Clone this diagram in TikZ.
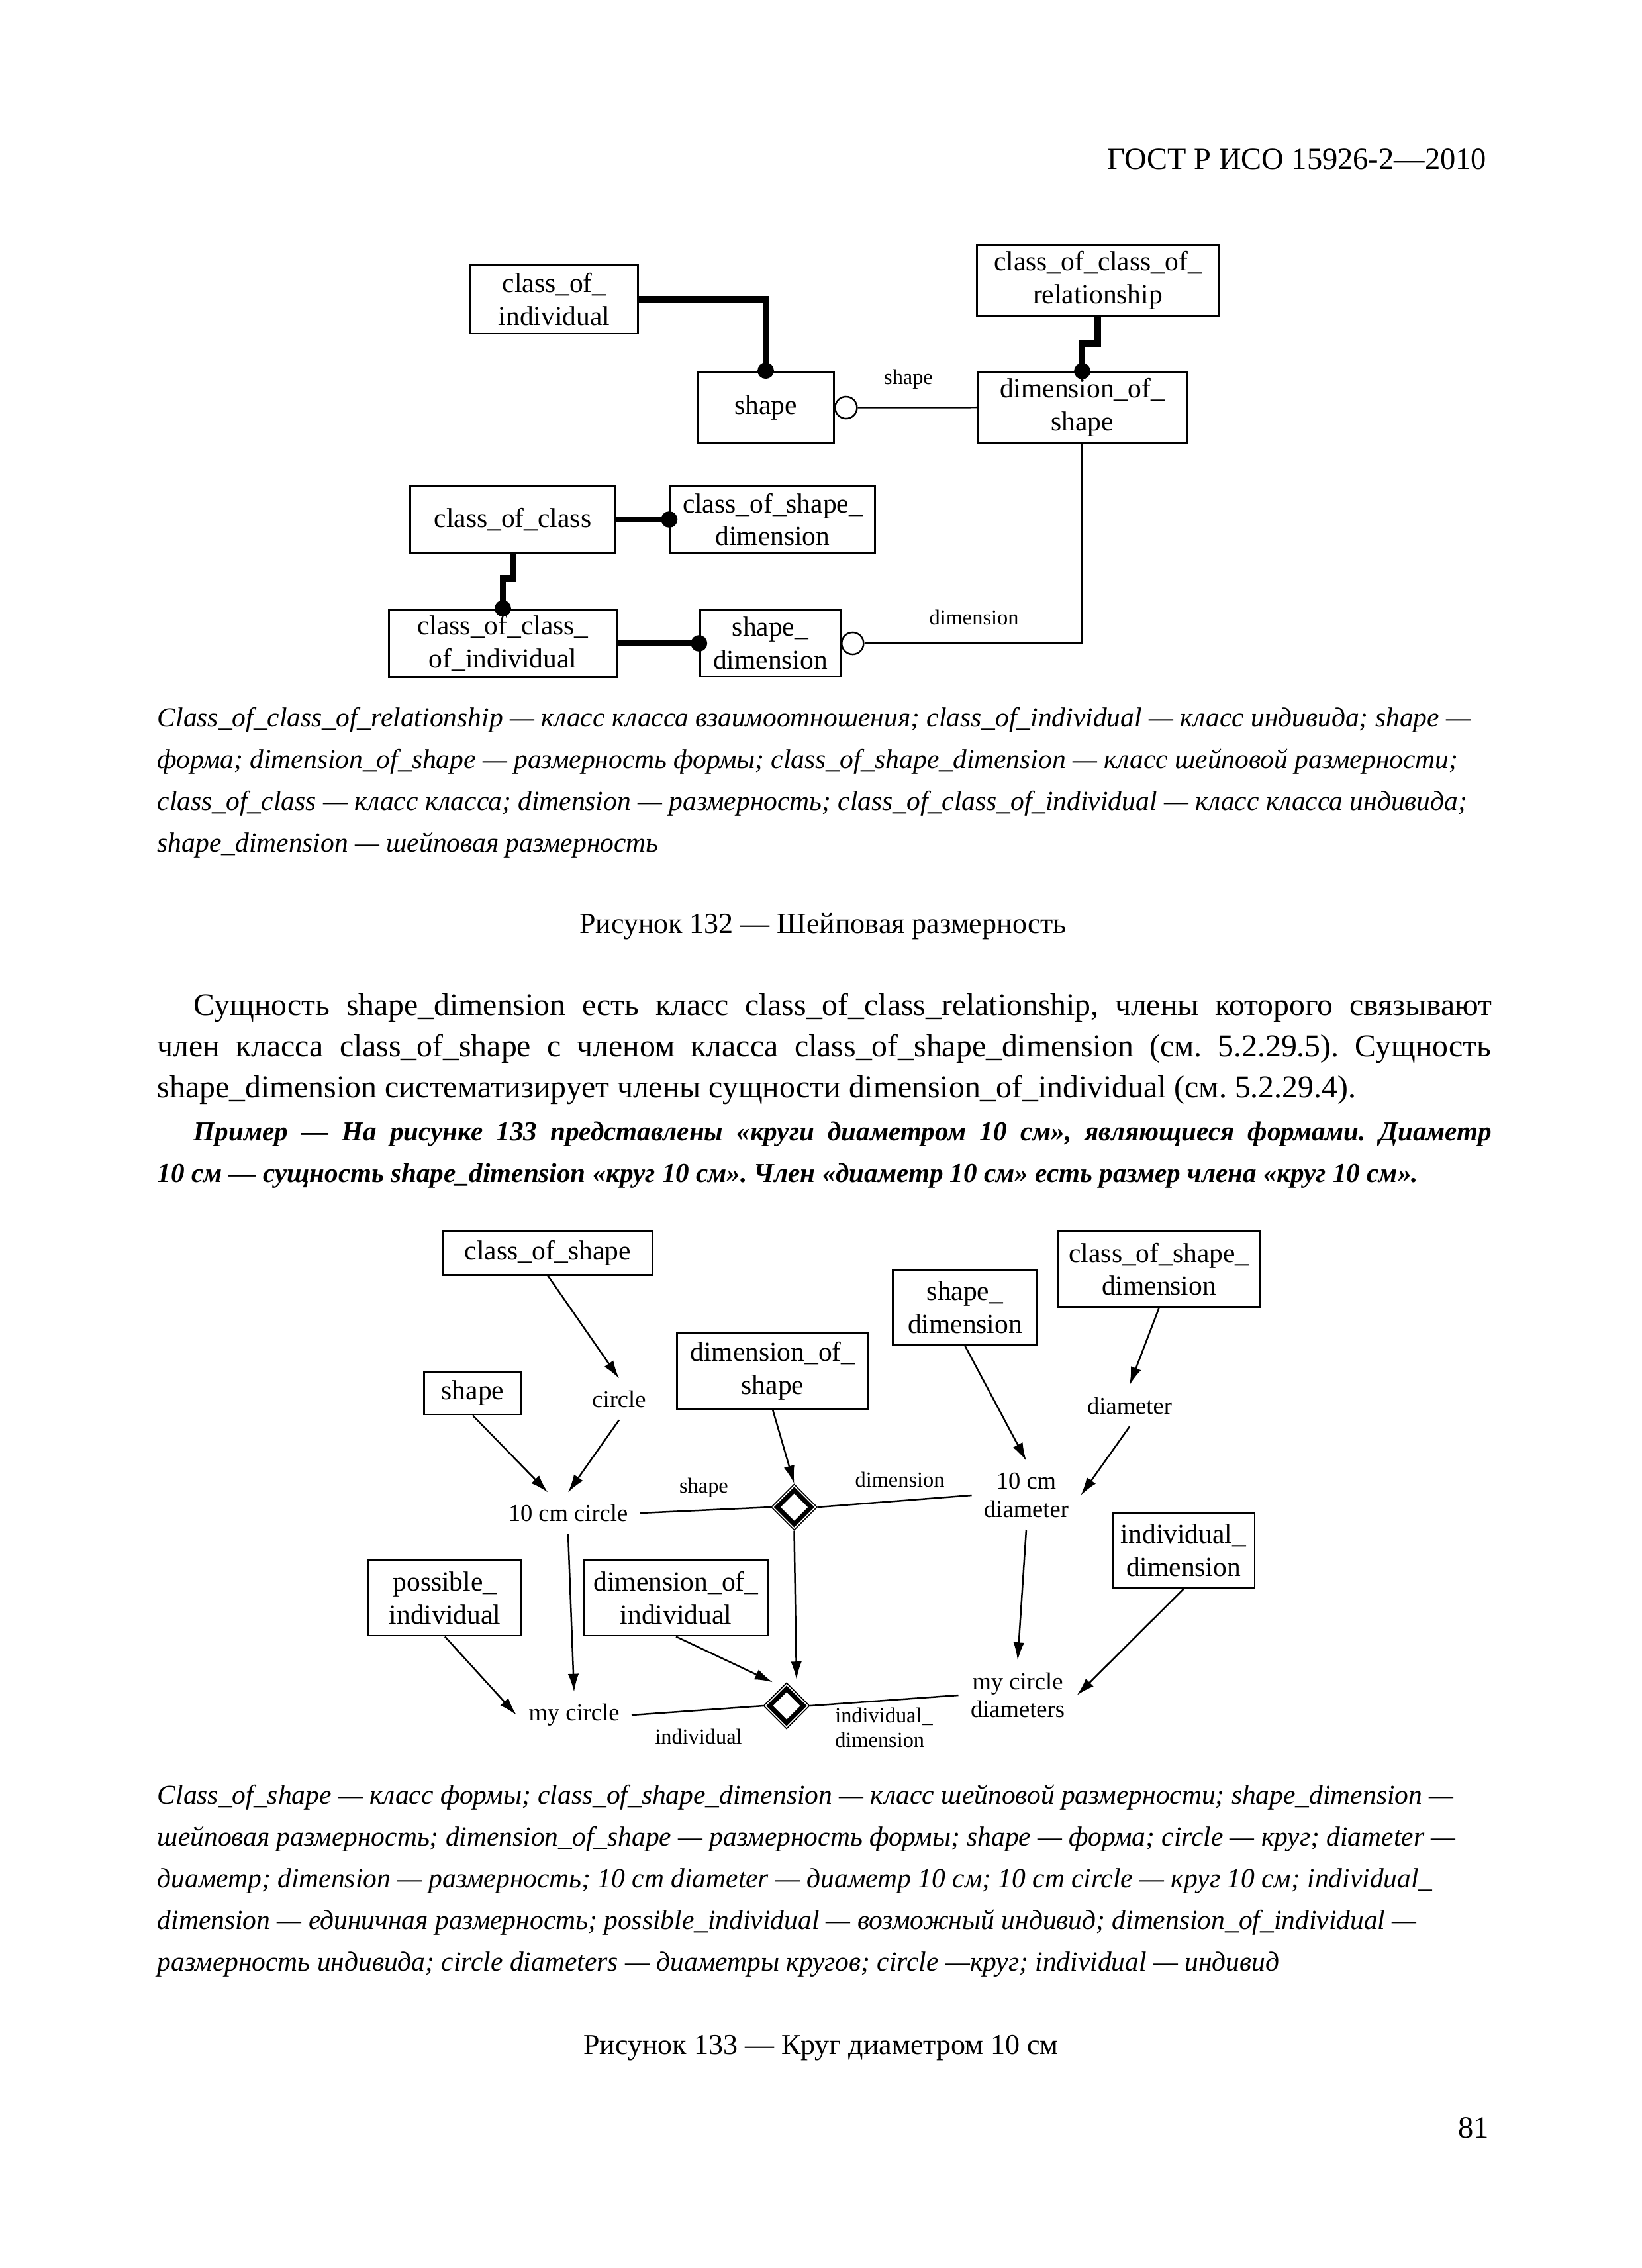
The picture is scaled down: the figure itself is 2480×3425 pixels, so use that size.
\documentclass[tikz,border=0pt]{standalone}
\usepackage{fontspec}
\setmainfont{Liberation Serif}
\usetikzlibrary{arrows.meta,shapes.geometric,calc}
\frenchspacing
\def\dotat(#1){\fill (#1) circle (1.05mm);}
\newlength\fullw \setlength\fullw{17.06cm}
\newlength\indw \setlength\indw{16.6cm}
\tikzset{
	box/.style={draw, line width=0.7pt, align=center, inner sep=0pt, font=\fontsize{10}{12}\selectfont},
	lbl/.style={inner sep=1.5mm, align=center, font=\fontsize{8.8}{10.2}\selectfont},
	rlbl/.style={inner sep=0pt, align=left, font=\fontsize{7.8}{9}\selectfont},
	thk/.style={line width=2.2pt},
	thn/.style={line width=0.6pt},
	arr/.style={line width=0.6pt, -{Latex[length=2.3mm,width=1.4mm]}},
	ring/.style={circle, draw, line width=0.6pt, minimum size=2.8mm, inner sep=0pt, fill=white},
	dia/.style={diamond, draw, line width=0.4pt, minimum size=5.9mm, inner sep=0pt, fill=white},
	diain/.style={diamond, draw, line width=1.7pt, minimum size=4.6mm, inner sep=0pt},
	txt/.style={inner sep=0pt, anchor=mid west},
	legend/.style={txt, font=\fontsize{10}{12}\selectfont\itshape},
	body/.style={txt, font=\fontsize{11.5}{14}\selectfont},
	expl/.style={txt, font=\fontsize{9.9}{12}\selectfont\bfseries\itshape},
	figcap/.style={inner sep=0pt, anchor=mid, font=\fontsize{10.6}{13}\selectfont},
}

\begin{document}
\begin{tikzpicture}[x=0.0084677cm, y=-0.0084677cm]
			%%%%% PAGE %%%%%
			\fill[white] (0,0) rectangle (2480,3425);
			\useasboundingbox (0,0) rectangle (2480,3425);
			
			\node[txt, anchor=mid east, font=\fontsize{11.2}{13}\selectfont] (hdr) at (2246,246) {ГОСТ Р ИСО 15926-2—2010};
			\node[txt, anchor=mid east, font=\fontsize{11.2}{13}\selectfont] (pgno) at (2250,3219) {81};
			
			%%%%% FIGURE 132 %%%%%
			\node[box, minimum width=21.5mm, minimum height=8.8mm] (coi) at (837,452) {class\_of\_\\individual};
			\node[box, minimum width=30.9mm, minimum height=9.06mm] (cocr) at (1658,423.5) {class\_of\_class\_of\_\\relationship};
			\node[box, minimum width=17.5mm, minimum height=9.2mm] (shp) at (1156.5,615.5) {shape};
			\node[box, minimum width=26.7mm, minimum height=9mm] (dos) at (1634.5,615) {dimension\_of\_\\shape};
			\node[box, minimum width=26.2mm, minimum height=8.4mm] (coc) at (774.5,784.5) {class\_of\_class};
			\node[box, minimum width=26.2mm, minimum height=8.4mm] (cosd) at (1167,784.5) {class\_of\_shape\_\\dimension};
			\node[box, minimum width=29.2mm, minimum height=8.7mm] (coci) at (759.5,971.5) {class\_of\_class\_\\of\_individual};
			\node[box, minimum width=18mm, minimum height=8.55mm] (sdim) at (1163.5,971.5) {shape\_\\dimension};
			
			\draw[thk] (coi.east) -| (shp.north);
			\dotat(shp.north)
			\coordinate (jog1) at (1658,519);
			\draw[thk] (cocr.south) -- (jog1) -| (dos.north);
			\dotat(dos.north)
			
			\node[ring] (shring) at ([xshift=1.4mm]shp.east) {};
			\draw[thn] (shring) -- (dos);
			\node[rlbl] (lshp) at (1372,573) {shape};
			
			\node[ring] (sdring) at ([xshift=1.4mm]sdim.east) {};
			\draw[thn] (dos.south) |- (sdring);
			\node[rlbl] (ldim) at (1471,932) {dimension};
			
			\draw[thk] (coc.east) -- (cosd.west);
			\dotat(cosd.west)
			\coordinate (jog2) at (774.5,874);
			\draw[thk] (coc.south) -- (jog2) -| (coci.north);
			\dotat(coci.north)
			\draw[thk] (coci.east) -- (sdim.west);
			\dotat(sdim.west)
			
			%%%%% LEGEND 132 %%%%%
			\node[legend] (lga) at (237,1088) {Class\_of\_class\_of\_relationship — класс класса взаимоотношения; class\_of\_individual — класс индивида; shape —};
			\node[legend] (lgb) at (237,1151) {форма; dimension\_of\_shape — размерность формы; class\_of\_shape\_dimension — класс шейповой размерности;};
			\node[legend] (lgc) at (237,1214) {class\_of\_class — класс класса; dimension — размерность; class\_of\_class\_of\_individual — класс класса индивида;};
			\node[legend] (lgd) at (237,1277) {shape\_dimension — шейповая размерность};
			\node[figcap] (fig132) at (1243,1400) {Рисунок 132 — Шейповая размерность};
			
			%%%%% TEXT %%%%%
			\node[body] (bda) at (292,1524) {\hbox to \indw{Сущность shape\_dimension есть класс class\_of\_class\_relationship, члены которого связывают}};
			\node[body] (bdb) at (237,1586) {\hbox to \fullw{член класса class\_of\_shape с членом класса class\_of\_shape\_dimension (см. 5.2.29.5). Сущность}};
			\node[body] (bdc) at (237,1648) {shape\_dimension систематизирует члены сущности dimension\_of\_individual (см. 5.2.29.4).};
			\node[expl] (exa) at (292,1713) {\hbox to \indw{Пример — На рисунке 133 представлены «круги диаметром 10 см», являющиеся формами. Диаметр}};
			\node[expl] (exb) at (237,1776) {10 см — сущность shape\_dimension «круг 10 см». Член «диаметр 10 см» есть размер члена «круг 10 см».};
			
			%%%%% FIGURE 133 %%%%%
			\node[box, minimum width=26.7mm, minimum height=5.6mm] (cos) at (827.5,1892) {class\_of\_shape};
			\node[box, minimum width=24.4mm, minimum height=9.6mm] (dosb) at (1167,2070.5) {dimension\_of\_\\shape};
			\node[box, minimum width=18.5mm, minimum height=9.65mm] (sdb) at (1457.5,1974) {shape\_\\dimension};
			\node[box, minimum width=25.8mm, minimum height=9.7mm] (cosdb) at (1750.5,1916.5) {class\_of\_shape\_\\dimension};
			\node[box, minimum width=12.4mm, minimum height=5.5mm] (shpb) at (714,2103.5) {shape};
			\node[box, minimum width=19.5mm, minimum height=9.65mm] (posi) at (672,2413) {possible\_\\individual};
			\node[box, minimum width=23.4mm, minimum height=9.65mm] (doi) at (1021,2413) {dimension\_of\_\\individual};
			\node[box, minimum width=18.2mm, minimum height=9.6mm] (idim) at (1787.5,2341.5) {individual\_\\dimension};
			
			\node[lbl] (circ) at (935,2113) {circle};
			\node[lbl] (c10) at (858,2285) {10 cm circle};
			\node[lbl] (diam) at (1706,2123) {diameter};
			\node[lbl] (d10) at (1550,2258) {10 cm\\diameter};
			\node[lbl] (myc) at (867,2590) {my circle};
			\node[lbl] (mycd) at (1537,2560) {my circle\\diameters};
			
			\node[dia] (dia1) at (1199.5,2276) {};
			\node[diain] (dia1in) at (dia1) {};
			\node[dia] (dia2) at (1188,2576) {};
			\node[diain] (dia2in) at (dia2) {};
			
			\draw[arr] (cos.south) -- (circ.north);
			\draw[arr] (shpb.south) -- (c10);
			\draw[arr] (circ.south) -- (c10.north);
			\draw[arr] (c10.south) -- (myc.north);
			\draw[arr] (dosb.south) -- (dia1.north);
			\draw[arr] (sdb.south) -- (d10.north);
			\draw[arr] (cosdb.south) -- (diam.north);
			\draw[arr] (diam.south) -- (d10.east);
			\draw[arr] (d10.south) -- (mycd.north);
			\draw[arr] (posi.south) -- (myc.west);
			\draw[arr] (doi.south) -- ($(dia2.north)+(-21,0)$);
			\draw[arr] (dia1.south) -- ($(dia2.north)+(15,-4)$);
			\draw[arr] (idim.south) -- (mycd.east);
			
			\draw[thn] (c10.east) -- (dia1.west);
			\draw[thn] (dia1.east) -- (d10.west);
			\draw[thn] (myc.east) -- (dia2.west);
			\draw[thn] (dia2.east) -- (mycd.west);
			
			\node[rlbl] (lsh) at (1063,2247) {shape};
			\node[rlbl] (ldm) at (1359,2234) {dimension};
			\node[rlbl] (lind) at (1055,2622) {individual};
			\node[rlbl] (lidm) at (1335,2609) {individual\_\\dimension};
			
			%%%%% LEGEND 133 %%%%%
			\node[legend] (lge) at (237,2715) {Class\_of\_shape — класс формы; class\_of\_shape\_dimension — класс шейповой размерности; shape\_dimension —};
			\node[legend] (lgf) at (237,2778) {шейповая размерность; dimension\_of\_shape — размерность формы; shape — форма; circle — круг; diameter —};
			\node[legend] (lgg) at (237,2841) {диаметр; dimension — размерность; 10 cm diameter — диаметр 10 см; 10 cm circle — круг 10 см; individual\_};
			\node[legend] (lgh) at (237,2904) {dimension — единичная размерность; possible\_individual — возможный индивид; dimension\_of\_individual —};
			\node[legend] (lgi) at (237,2967) {размерность индивида; circle diameters — диаметры кругов; circle —круг; individual — индивид};
			\node[figcap] (fig133) at (1240,3093) {Рисунок 133 — Круг диаметром 10 см};
			%%%%% END %%%%%
\end{tikzpicture}
\end{document}
